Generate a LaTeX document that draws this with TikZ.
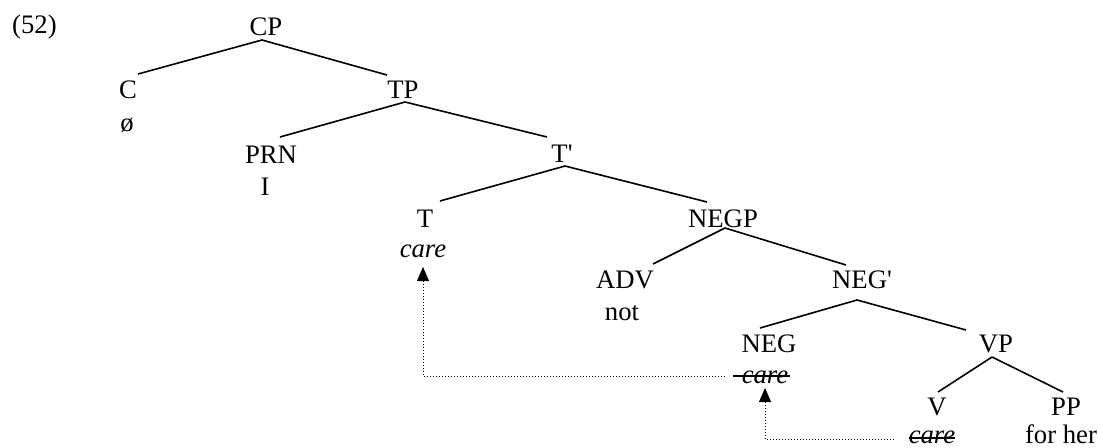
\documentclass[tikz,border=0pt]{standalone}
\usepackage{fontspec}
\setmainfont{Liberation Serif}[Ligatures=TeXOff]
\usetikzlibrary{arrows.meta}
\begin{document}
\begin{tikzpicture}[x=1pt,y=-1pt,
  lbl/.style={anchor=base,inner sep=0pt,font=\fontsize{26.7}{32}\selectfont},
  branch/.style={line width=1.6pt},
  move/.style={line width=0.9pt,dash pattern=on 1pt off 2pt,-{Triangle[width=12pt,length=14pt]}},
  strike/.style={line width=1.4pt}]
\useasboundingbox (0,0) rectangle (1099,447);
\node[lbl,anchor=base west] (num) at (12,33) {(52)};
\node[lbl] (CP) at (266,35) {CP};
\node[lbl] (C) at (128,98) {C};
\node[lbl] (phi) at (127,131) {ø};
\node[lbl] (TP) at (403,98) {TP};
\node[lbl] (PRN) at (271,163) {PRN};
\node[lbl] (I) at (265,195) {I};
\node[lbl] (Tbar) at (562,162) {T'};
\node[lbl] (T) at (425,227) {T};
\node[lbl] (careT) at (423,257) {\itshape care};
\node[lbl] (NEGP) at (723,227) {NEGP};
\node[lbl] (ADV) at (625,288) {ADV};
\node[lbl] (not) at (622,320) {not};
\node[lbl] (NEGbar) at (862,288) {NEG'};
\node[lbl] (NEG) at (769,352) {NEG};
\node[lbl] (careNEG) at (765,383) {\itshape care};
\node[lbl] (VP) at (996,352) {VP};
\node[lbl] (V) at (937,415) {V};
\node[lbl] (PP) at (1066,415) {PP};
\node[lbl] (careV) at (932,443) {\itshape care};
\node[lbl] (forher) at (1061,443) {for her};
% branches
\draw[branch] ([shift={(-4pt,-5pt)}]CP.base) -- ([shift={(10pt,24pt)}]C.base);
\draw[branch] ([shift={(-4pt,-5pt)}]CP.base) -- ([shift={(-16pt,23pt)}]TP.base);
\draw[branch] ([shift={(2pt,-4pt)}]TP.base) -- ([shift={(9pt,26pt)}]PRN.base);
\draw[branch] ([shift={(2pt,-4pt)}]TP.base) -- ([shift={(-15pt,25pt)}]Tbar.base);
\draw[branch] ([shift={(3pt,-4pt)}]Tbar.base) -- ([shift={(15pt,26pt)}]T.base);
\draw[branch] ([shift={(3pt,-4pt)}]Tbar.base) -- ([shift={(-16pt,25pt)}]NEGP.base);
\draw[branch] ([shift={(2pt,-1pt)}]NEGP.base) -- ([shift={(28pt,24pt)}]ADV.base);
\draw[branch] ([shift={(2pt,-1pt)}]NEGP.base) -- ([shift={(-16pt,23pt)}]NEGbar.base);
\draw[branch] ([shift={(-5pt,-12pt)}]NEGbar.base) -- ([shift={(-9pt,24pt)}]NEG.base);
\draw[branch] ([shift={(-5pt,-12pt)}]NEGbar.base) -- ([shift={(-30pt,22pt)}]VP.base);
\draw[branch] ([shift={(-4pt,-5pt)}]VP.base) -- ([shift={(1pt,23pt)}]V.base);
\draw[branch] ([shift={(-4pt,-5pt)}]VP.base) -- ([shift={(-3pt,23pt)}]PP.base);
% strikethroughs
\draw[strike] ([shift={(-9pt,7pt)}]careNEG.base west) -- ([shift={(2pt,7pt)}]careNEG.base east);
\draw[strike] ([shift={(0pt,5pt)}]careV.base west) -- ([shift={(0pt,5pt)}]careV.base east);
% movement
\draw[move] ([shift={(-15pt,4pt)}]careV.base west) -| ([yshift=-5pt]careNEG.base);
\draw[move] ([shift={(-17pt,7pt)}]careNEG.base west) -| ([yshift=-10pt]careT.base);
\end{tikzpicture}
\end{document}
